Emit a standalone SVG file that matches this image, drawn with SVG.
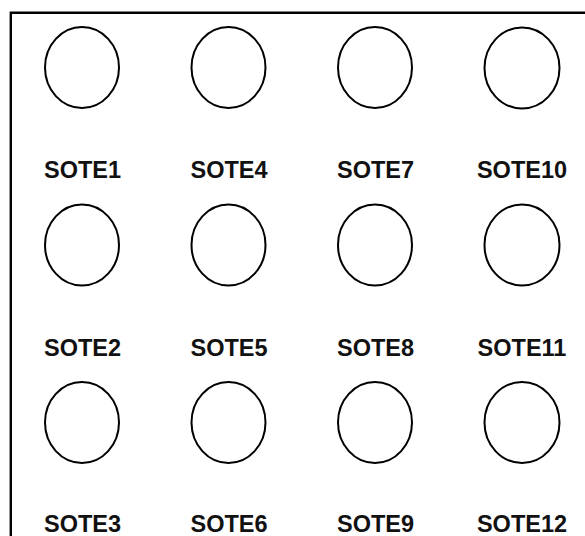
<svg xmlns="http://www.w3.org/2000/svg" width="585" height="536" viewBox="0 0 585 536">
<style>
.n ellipse{fill:#fff;stroke:#000;stroke-width:2}
.n text{font-family:"Liberation Sans",Arial,sans-serif;font-weight:bold;font-size:23.5px;fill:#111;text-anchor:middle}
.frame{stroke:#000;stroke-width:2.4;fill:none}
</style>
<rect width="585" height="536" fill="#fff"/>
<path class="frame" d="M10.8,536 V12.7 H585"/>
<g id="connectors"></g>
<g id="SOTE1" class="n"><ellipse cx="82" cy="67.5" rx="37" ry="40.5"/><text x="82.5" y="178">SOTE1</text></g>
<g id="SOTE2" class="n"><ellipse cx="82" cy="245" rx="37" ry="40.5"/><text x="82.5" y="355.5">SOTE2</text></g>
<g id="SOTE3" class="n"><ellipse cx="82" cy="422.5" rx="37" ry="40.5"/><text x="82.5" y="532">SOTE3</text></g>
<g id="SOTE4" class="n"><ellipse cx="228.5" cy="67.5" rx="37" ry="40.5"/><text x="229" y="178">SOTE4</text></g>
<g id="SOTE5" class="n"><ellipse cx="228.5" cy="245" rx="37" ry="40.5"/><text x="229" y="355.5">SOTE5</text></g>
<g id="SOTE6" class="n"><ellipse cx="228.5" cy="422.5" rx="37" ry="40.5"/><text x="229" y="532">SOTE6</text></g>
<g id="SOTE7" class="n"><ellipse cx="375" cy="67.5" rx="37" ry="40.5"/><text x="375.5" y="178">SOTE7</text></g>
<g id="SOTE8" class="n"><ellipse cx="375" cy="245" rx="37" ry="40.5"/><text x="375.5" y="355.5">SOTE8</text></g>
<g id="SOTE9" class="n"><ellipse cx="375" cy="422.5" rx="37" ry="40.5"/><text x="375.5" y="532">SOTE9</text></g>
<g id="SOTE10" class="n"><ellipse cx="522" cy="68" rx="37.5" ry="40.5"/><text x="522" y="178">SOTE10</text></g>
<g id="SOTE11" class="n"><ellipse cx="522" cy="245" rx="37.5" ry="40.5"/><text x="522" y="355.5">SOTE11</text></g>
<g id="SOTE12" class="n"><ellipse cx="522" cy="422.5" rx="37.5" ry="40.5"/><text x="522" y="532">SOTE12</text></g>
</svg>
